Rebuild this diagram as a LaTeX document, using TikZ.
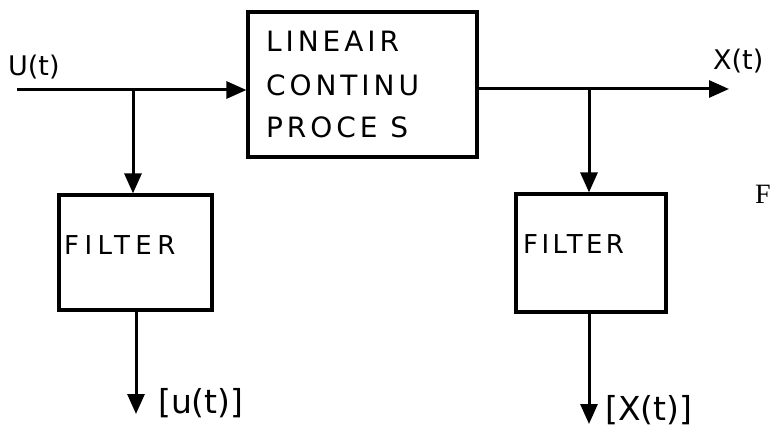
\documentclass[tikz,border=0pt]{standalone}
\usepackage{fontspec}
\setmainfont{DejaVu Sans}
\newfontfamily\hand[LetterSpace=14]{DejaVu Sans}
\newfontfamily\handwide[LetterSpace=21]{DejaVu Sans}
\newfontfamily\handmid[LetterSpace=13]{DejaVu Sans}
\newfontfamily\serifF{Liberation Serif}
\usetikzlibrary{arrows.meta}
\begin{document}
\begin{tikzpicture}[x=1pt,y=-1pt,
  wire/.style={line width=3pt,-{Triangle[length=20pt,width=17pt]}},
  blk/.style={draw,line width=3.2pt,rectangle,inner sep=0pt},
  lbl/.style={font=\hand\fontsize{28}{32}\selectfont,inner sep=0pt},
  sig/.style={font=\fontsize{27}{30}\selectfont,inner sep=0pt},
  bsig/.style={font=\fontsize{33}{36}\selectfont,inner sep=0pt}]
\useasboundingbox (0,0) rectangle (772,428);
% blocks
\node[blk,minimum width=229pt,minimum height=145pt] (proc) at (362.5,84.5) {};
\node[blk,minimum width=153pt,minimum height=115pt] (fl) at (135.5,252.5) {};
\node[blk,minimum width=150pt,minimum height=118pt] (fr) at (591,253) {};
% block texts
\node[lbl,anchor=west] (t1) at (266,41) {LINEAIR};
\node[lbl,anchor=west] (t2) at (266,85) {CONTINU};
\node[lbl,anchor=west] (t3) at (266,127) {PROCE S};
\node[font=\handwide\fontsize{26}{30}\selectfont,inner sep=0pt,anchor=west] (f1) at (64,245) {FILTER};
\node[font=\handmid\fontsize{26}{30}\selectfont,inner sep=0pt,anchor=west] (f2) at (523,244.5) {FILTER};
% signal names
\node[sig,anchor=west] (u) at (8,67) {U(t)};
\node[sig,anchor=west] (x) at (713,61) {X(t)};
\node[bsig,anchor=west] (uf) at (158,403) {[u(t)]};
\node[bsig,anchor=west] (xf) at (605,410) {[X(t)]};
\node[font=\serifF\fontsize{28}{32}\selectfont,anchor=base east,inner sep=0pt] (fig) at (771,203) {F};
% junctions and free ends
\coordinate (in) at (17,90);
\coordinate (ju) at (133,90);
\coordinate (jx) at (589,89);
\coordinate (out) at (729,89);
\coordinate (uend) at (136,414);
\coordinate (xend) at (589,424);
% connectors
\draw[wire] (in) -- (proc.west |- in);
\draw[line width=3pt] (proc.east |- jx) -- (jx);
\draw[wire] (jx) -- (out);
\draw[wire] (ju) -- (ju |- fl.north);
\draw[wire] (jx) -- (jx |- fr.north);
\draw[wire] (fl.south -| uend) -- (uend);
\draw[wire] (fr.south -| xend) -- (xend);
\end{tikzpicture}
\end{document}
